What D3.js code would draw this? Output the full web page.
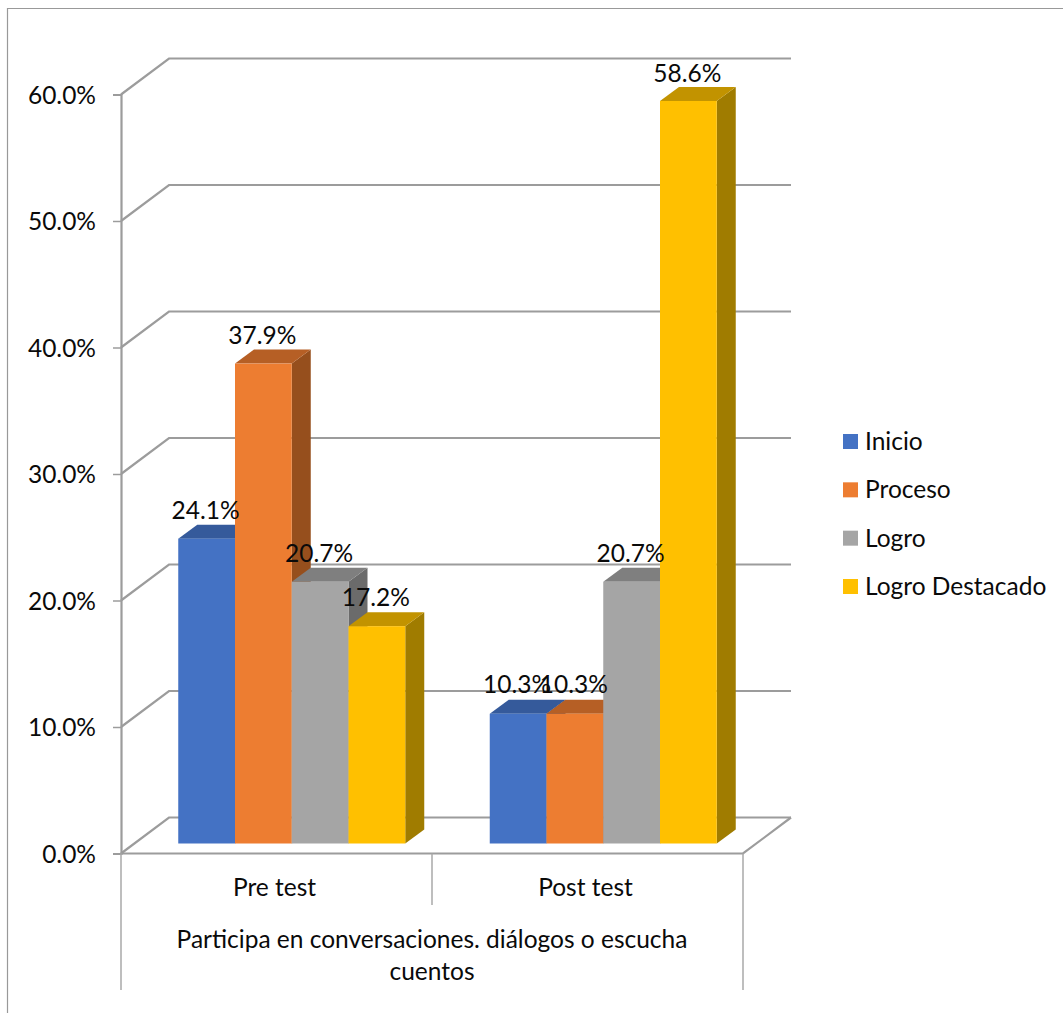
<!DOCTYPE html>
<html lang="es">
<head>
<meta charset="utf-8">
<style>
  html, body { margin: 0; padding: 0; background: #fff; }
  svg { display: block; }
  text { font-family: Lato, "Open Sans", sans-serif; fill: #0a0a0a; }
</style>
<script src="https://cdn.jsdelivr.net/npm/d3@7/dist/d3.min.js"></script>
</head>
<body>
<svg id="chart" width="1063" height="1014"></svg>
<script>
// Chart data
const categories = ["Pre test", "Post test"];
const groupLabelLines = ["Participa en conversaciones. diálogos o escucha", "cuentos"];
const seriesNames = ["Inicio", "Proceso", "Logro", "Logro Destacado"];
const inicio = [24.1, 10.3];
const proceso = [37.9, 10.3];
const logro = [20.7, 20.7];
const logroDestacado = [17.2, 58.6];
const yTicks = [0, 10, 20, 30, 40, 50, 60];

// Face colours of each series: front, top, side
const frontColors = ["#4472C4", "#ED7D31", "#A5A5A5", "#FFC000"];
const topColors = ["#355A9B", "#B65F25", "#7F7F7F", "#C29300"];
const sideColors = ["#2A4A80", "#964F1D", "#6B6B6B", "#A07C00"];

const seriesValues = [inicio, proceso, logro, logroDestacado];
const axisColor = "#9C9C9C";
const fontSize = 24.5;

const svg = d3.select("#chart");

// Plot geometry: front edge of the floor, depth of the walls and of the bars
const y = d3.scaleLinear().domain([0, 60]).range([853.5, 94.5]);
// Bars stand on a plane set back from the front edge, so their scale differs slightly
const yBar = d3.scaleLinear().domain([0, 60]).range([844.4, 83.2]);
const xAxisBand = d3.scaleBand().domain(categories).range([121, 743]);
const wall = { dx: 48, dy: -36 };
const barPlane = { dx: 15, dy: -10 };
const barDepth = { dx: 19, dy: -14 };

const x0 = d3.scaleBand().domain(categories)
  .range([121 + barPlane.dx, 744 + barPlane.dx]).paddingInner(0).paddingOuter(0);
const groupWidth = 227;
const x1 = d3.scaleBand().domain(seriesNames)
  .range([(x0.bandwidth() - groupWidth) / 2, (x0.bandwidth() + groupWidth) / 2]);

// Outer chart frame
svg.append("path")
  .attr("d", "M1063,8.5H7.5V1013")
  .attr("fill", "none").attr("stroke", "#999").attr("stroke-width", 1.2);

// Back wall gridlines with their diagonals along the side wall
const grid = svg.append("g").attr("fill", "none").attr("stroke", axisColor).attr("stroke-width", 2.2);
grid.selectAll("path").data(yTicks).join("path")
  .attr("d", d => {
    const line = d3.path();
    line.moveTo(121, y(d));
    line.lineTo(121 + wall.dx, y(d) + wall.dy);
    line.lineTo(743 + wall.dx, y(d) + wall.dy);
    return line.toString();
  });

// Front edge of the floor
grid.append("path").attr("d", d3.line()([
  [121, y(0)], [743, y(0)], [743 + wall.dx, y(0) + wall.dy]
]));

// Value axis
const yAxis = d3.axisLeft(y).tickValues(yTicks).tickSize(8).tickPadding(0)
  .tickFormat(d => d.toFixed(1) + "%");
const yAxisG = svg.append("g").attr("transform", "translate(121,0)").call(yAxis);
yAxisG.select(".domain").attr("stroke", axisColor).attr("stroke-width", 2.2);
yAxisG.selectAll(".tick line").attr("stroke", axisColor).attr("stroke-width", 1.5);
yAxisG.selectAll(".tick text")
  .attr("x", -25).attr("dy", "0.35em")
  .attr("font-size", fontSize);
yAxisG.attr("font-family", null).attr("font-size", null);

// Category separators below the floor
const separators = svg.append("g").attr("stroke", "#A8A8A8").attr("stroke-width", 1.5);
[[xAxisBand.range()[0], 990], [xAxisBand(categories[1]), 905], [xAxisBand.range()[1], 990]]
  .forEach(([px, end]) => {
    separators.append("line").attr("x1", px).attr("x2", px).attr("y1", y(0)).attr("y2", end);
  });

// Bars are painted from left to right so each one overlaps its left neighbour
const bars = svg.append("g");
const labels = [];
categories.forEach((cat, ci) => {
  seriesNames.forEach((name, si) => {
    const v = seriesValues[si][ci];
    const left = x0(cat) + x1(name);
    const right = left + x1.bandwidth();
    const top = yBar(v);
    const bottom = y(0) + barPlane.dy;
    const g = bars.append("g");
    // side face
    g.append("path").attr("fill", sideColors[si]).attr("d", d3.line()([
      [right, top], [right + barDepth.dx, top + barDepth.dy],
      [right + barDepth.dx, bottom + barDepth.dy], [right, bottom]
    ]) + "Z");
    // top face
    g.append("path").attr("fill", topColors[si]).attr("d", d3.line()([
      [left, top], [left + barDepth.dx, top + barDepth.dy],
      [right + barDepth.dx, top + barDepth.dy], [right, top]
    ]) + "Z");
    // front face
    g.append("rect").attr("fill", frontColors[si])
      .attr("x", left).attr("y", top).attr("width", right - left).attr("height", bottom - top);
    labels.push({ x: (left + right) / 2 - 1, y: y(v) - 30, text: v.toFixed(1) + "%" });
  });
});

// Value labels sit above all the bars
svg.append("g").selectAll("text").data(labels).join("text")
  .attr("x", d => d.x).attr("y", d => d.y)
  .attr("text-anchor", "middle").attr("font-size", fontSize)
  .text(d => d.text);

// Category labels
svg.append("g").selectAll("text").data(categories).join("text")
  .attr("x", d => xAxisBand(d) + xAxisBand.bandwidth() / 2 - 2)
  .attr("y", 896)
  .attr("text-anchor", "middle").attr("font-size", fontSize)
  .text(d => d);

// Two-line group label
svg.append("g").selectAll("text").data(groupLabelLines).join("text")
  .attr("x", d3.mean(xAxisBand.range()))
  .attr("y", (d, i) => 948 + i * 32)
  .attr("text-anchor", "middle").attr("font-size", fontSize)
  .text(d => d);

// Legend
const legendY = d3.scalePoint().domain(seriesNames).range([441.5, 586.5]);
const legend = svg.append("g").selectAll("g").data(seriesNames).join("g")
  .attr("transform", d => `translate(843,${legendY(d)})`);
legend.append("rect").attr("y", -7.5).attr("width", 15).attr("height", 15)
  .attr("fill", (d, i) => frontColors[i]);
legend.append("text").attr("x", 22).attr("y", 8.5).attr("font-size", fontSize).text(d => d);
</script>
</body>
</html>
